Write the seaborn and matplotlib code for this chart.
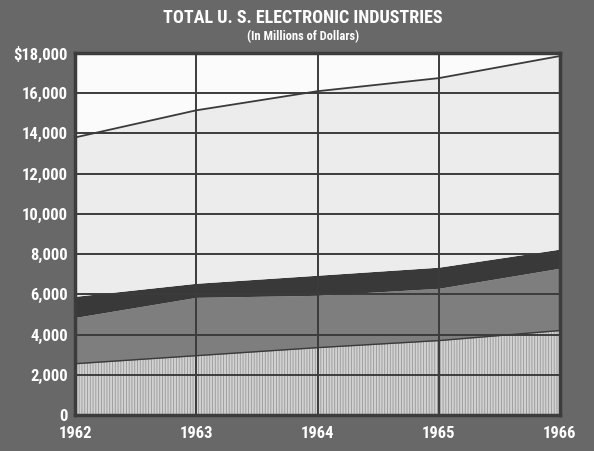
import matplotlib
matplotlib.use("Agg")
import matplotlib.pyplot as plt
import seaborn as sns
import pandas as pd

# ---- data (millions of dollars, stacked layers) ----
years = [1962, 1963, 1964, 1965, 1966]
layer_hatched = [2550, 2950, 3350, 3700, 4200]
layer_medium = [2300, 2900, 2600, 2600, 3100]
layer_dark = [1050, 700, 1000, 1050, 950]
layer_light = [7900, 8600, 9150, 9400, 9600]
y_ticks = [0, 2000, 4000, 6000, 8000, 10000, 12000, 14000, 16000, 18000]
y_tick_labels = ["0", "2,000", "4,000", "6,000", "8,000", "10,000",
                 "12,000", "14,000", "16,000", "$18,000"]
title = "TOTAL U. S. ELECTRONIC INDUSTRIES"
subtitle = "(In Millions of Dollars)"

df = pd.DataFrame({"year": years, "hatched": layer_hatched, "medium": layer_medium,
                   "dark": layer_dark, "light": layer_light})
df["c1"] = df["hatched"]
df["c2"] = df["c1"] + df["medium"]
df["c3"] = df["c2"] + df["dark"]
df["c4"] = df["c3"] + df["light"]

sns.set_theme(style="white")
FAM = ["Roboto Condensed", "Archivo Narrow", "Barlow Condensed", "DejaVu Sans"]
plt.rcParams["font.family"] = FAM
plt.rcParams["hatch.linewidth"] = 0.6

BG = "#686868"
fig = plt.figure(figsize=(5.94, 4.51), dpi=100, facecolor=BG)
ax = fig.add_axes([75 / 594, 1 - 415 / 451, (560 - 75) / 594, (415 - 53) / 451])
ax.set_facecolor("#fbfbfb")

x = df["year"]
ax.fill_between(x, 0, df["c1"], facecolor="#d2d2d2", edgecolor="#979797",
                hatch="||||||", linewidth=0, zorder=1)
ax.fill_between(x, df["c1"], df["c2"], facecolor="#7e7e7e", linewidth=0, zorder=1)
ax.fill_between(x, df["c2"], df["c3"], facecolor="#393939", linewidth=0, zorder=1)
ax.fill_between(x, df["c3"], df["c4"], facecolor="#ececec", linewidth=0, zorder=1)

sns.lineplot(data=df, x="year", y="c4", ax=ax, color="#3a3a3a", linewidth=1.3, zorder=3)
sns.lineplot(data=df, x="year", y="c1", ax=ax, color="#3a3a3a", linewidth=1.0, zorder=3)

ax.set_xlim(1962, 1966)
ax.set_ylim(0, 18000)
ax.set_xticks(years)
ax.set_xticklabels([str(y) for y in years])
ax.set_yticks(y_ticks)
ax.set_yticklabels(y_tick_labels)
ax.set_xlabel("")
ax.set_ylabel("")
ax.set_axisbelow(False)
ax.grid(True, color="#3c3c3c", linewidth=1.4)

for s in ax.spines.values():
    s.set_color("#3c3c3c")
    s.set_linewidth(2.5)

ax.tick_params(axis="both", length=0, colors="white", labelsize=12)
ax.tick_params(axis="y", pad=5)
ax.tick_params(axis="x", pad=8)
for lab in ax.get_xticklabels() + ax.get_yticklabels():
    lab.set_fontweight("bold")
    lab.set_color("white")

fig.text(303 / 594, 1 - 18 / 451, title, color="white", fontsize=13,
         fontweight="bold", ha="center", va="center")
fig.text(303 / 594, 1 - 37 / 451, subtitle, color="white", fontsize=9,
         fontweight="bold", ha="center", va="center")

fig.savefig("out.png", dpi=100, facecolor=BG)
